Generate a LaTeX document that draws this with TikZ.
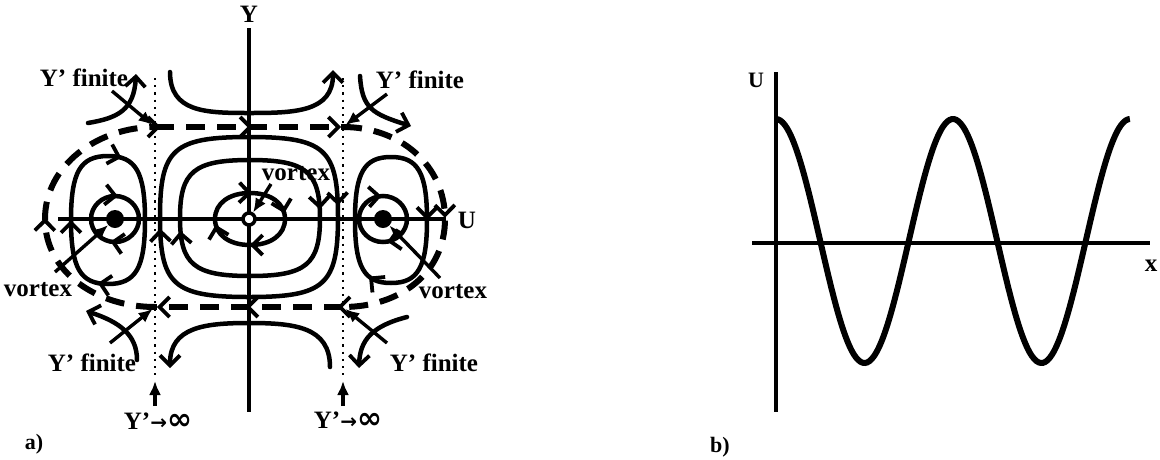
\documentclass[tikz,border=0pt]{standalone}
\usepackage{fontspec}
\setmainfont{Liberation Serif}
\newfontfamily\symfont{DejaVu Sans}
\usetikzlibrary{arrows.meta,decorations.markings}
\tikzset{
 >={Straight Barb[length=10pt,width=20pt,line width=3.8pt]},
 traj/.style={line width=4.5pt, line cap=round},
 axisl/.style={line width=3.5pt},
 sep/.style={line width=6pt, dash pattern=on 19pt off 12pt},
 dotl/.style={line width=2.2pt, dash pattern=on 2.2pt off 5pt},
 ptr/.style={line width=3.4pt, -{Latex[length=14pt,width=12pt]}},
 lab/.style={font=\bfseries\fontsize{25}{25}\selectfont, inner sep=0pt},
 smlab/.style={font=\bfseries\fontsize{22}{22}\selectfont, inner sep=0pt},
 am/.style={postaction={decorate,decoration={markings,mark=at position #1 with {\arrow[solid]{>}}}}},
 vdot/.style={circle, fill=black, minimum size=18pt, inner sep=0pt},
 cdot/.style={circle, fill=white, draw=black, line width=3.5pt, minimum size=12pt, inner sep=0pt},
}
\newcommand\infsym{{\symfont\bfseries\fontsize{20}{20}\selectfont→\fontsize{30}{25}\selectfont∞}}
\newcommand\sqloop[6]{%
 \pgfmathsetmacro\Lxa{#2+#4}\pgfmathsetmacro\Lxb{#2-#4}%
 \pgfmathsetmacro\Lya{#3-#5}\pgfmathsetmacro\Lyb{#3+#5}%
 \pgfmathsetmacro\Lxka{#2+#6*#4}\pgfmathsetmacro\Lxkb{#2-#6*#4}%
 \pgfmathsetmacro\Lyka{#3-#6*#5}\pgfmathsetmacro\Lykb{#3+#6*#5}%
 \draw[#1] (#2,\Lya) .. controls (\Lxka,\Lya) and (\Lxa,\Lyka) .. (\Lxa,#3)
 .. controls (\Lxa,\Lykb) and (\Lxka,\Lyb) .. (#2,\Lyb)
 .. controls (\Lxkb,\Lyb) and (\Lxb,\Lykb) .. (\Lxb,#3)
 .. controls (\Lxb,\Lyka) and (\Lxkb,\Lya) .. (#2,\Lya) -- cycle;}
\begin{document}
\begin{tikzpicture}[x=1pt,y=-1pt]
\useasboundingbox (0,0) rectangle (1160,459);
% ---------- panel a ----------
\draw[axisl] (249,28) -- (249,412);
\draw[axisl] (58,219) -- (446,219);
\draw[dotl] (155,78) -- (155,380);
\draw[dotl] (343,78) -- (343,380);
% separatrix (dashed)
\coordinate (sTL) at (155,127);
\coordinate (sTR) at (343,127);
\coordinate (sBL) at (155,307);
\coordinate (sBR) at (343,307);
\draw[sep, am=0.03, am=0.52, am=0.99] (sTL) -- (sTR);
\draw[sep, am=0.5] (sTR) .. controls (400,127) and (445,165) .. (445,219) .. controls (445,273) and (400,307) .. (sBR);
\draw[sep, am=0.03, am=0.52, am=0.99] (sBR) -- (sBL);
\draw[sep, am=0.5] (sBL) .. controls (98,307) and (45,273) .. (45,219) .. controls (45,165) and (98,127) .. (sTL);
% outer hyperbolic trajectories
\draw[traj,->] (170,72) .. controls (170,112) and (205,113) .. (249,113) .. controls (295,113) and (333,112) .. (333,70);
\draw[traj,->] (330,367) .. controls (330,327) and (295,323) .. (249,323) .. controls (205,323) and (170,327) .. (170,368);
\draw[traj,->] (88,123) .. controls (118,118) and (134,110) .. (136,74);
\draw[traj,->] (360,76) .. controls (362,108) and (372,114) .. (411,126);
\draw[traj,->] (137,360) .. controls (137,335) and (120,322) .. (86,311);
\draw[traj,->] (407,317) .. controls (372,326) and (360,340) .. (359,368);
% central closed orbits
\sqloop{traj, am=0.01, am=0.22, am=0.5, am=0.72}{250}{219}{35}{26}{0.6}
\sqloop{traj, am=0.23, am=0.72}{250}{218}{70}{58}{0.8}
\sqloop{traj, am=0.23, am=0.73}{249}{217}{89}{80}{0.85}
% side orbits
\sqloop{traj, am=0.04, am=0.53, am=0.75}{108}{220}{37}{64}{0.75}
\sqloop{traj, am=0.02, am=0.53}{115}{219}{24}{23}{0.55}
\sqloop{traj, am=0.25, am=0.57}{391}{220}{36}{63}{0.75}
\sqloop{traj, am=0.99, am=0.47}{383}{219}{24}{23}{0.55}
% vortex points
\node[vdot] (lv) at (115,219) {};
\node[vdot] (rv) at (383,219) {};
\node[cdot] (cv) at (249,219) {};
% labels
\node[lab] (Ylab) at (249,14) {Y};
\node[lab] (Ulab) at (467,220) {U};
\node[lab] (lTL) at (84,78) {Y' finite};
\node[lab] (lTR) at (420,80) {Y' finite};
\node[lab] (lBL) at (92,363) {Y' finite};
\node[lab] (lBR) at (434,363) {Y' finite};
\node[lab] (vL) at (38,290) {vortex};
\node[lab] (vR) at (453,292) {vortex};
\node[lab] (vC) at (296,174) {vortex};
\node[lab] (inf1) at (158,421) {Y'\infsym};
\node[lab] (inf2) at (348,420) {Y'\infsym};
\node[smlab] (la) at (34,444) {a)};
% pointers
\coordinate (pTL) at (112,91);
\coordinate (pTR) at (387,94);
\coordinate (pBL) at (110,343);
\coordinate (pBR) at (387,343);
\draw[ptr, shorten >=3pt] (pTL) -- (sTL);
\draw[ptr, shorten >=3pt] (pTR) -- (sTR);
\draw[ptr, shorten >=3pt] (pBL) -- (sBL);
\draw[ptr, shorten >=3pt] (pBR) -- (sBR);
\coordinate (lvs) at (55,272);
\coordinate (rvs) at (440,278);
\coordinate (cvs) at (271,184);
\draw[ptr] (lvs) -- (lv);
\draw[ptr] (rvs) -- (rv);
\draw[ptr] (cvs) -- (cv);
\coordinate (i1s) at (155,406);
\coordinate (i1e) at (155,381);
\coordinate (i2s) at (343,406);
\coordinate (i2e) at (343,381);
\draw[ptr] (i1s) -- (i1e);
\draw[ptr] (i2s) -- (i2e);
% ---------- panel b ----------
\draw[axisl] (776,72) -- (776,412);
\draw[axisl] (752,243) -- (1150,243);
\draw[line width=6pt] plot[domain=0:2, samples=160, smooth] ({776+177*\x}, {241-122*cos(360*\x)});
\node[smlab] (Ub) at (756,80) {U};
\node[smlab, font=\bfseries\fontsize{25}{25}\selectfont] (xb) at (1151,266) {x};
\node[smlab] (lb) at (720,447) {b)};
\end{tikzpicture}
\end{document}
